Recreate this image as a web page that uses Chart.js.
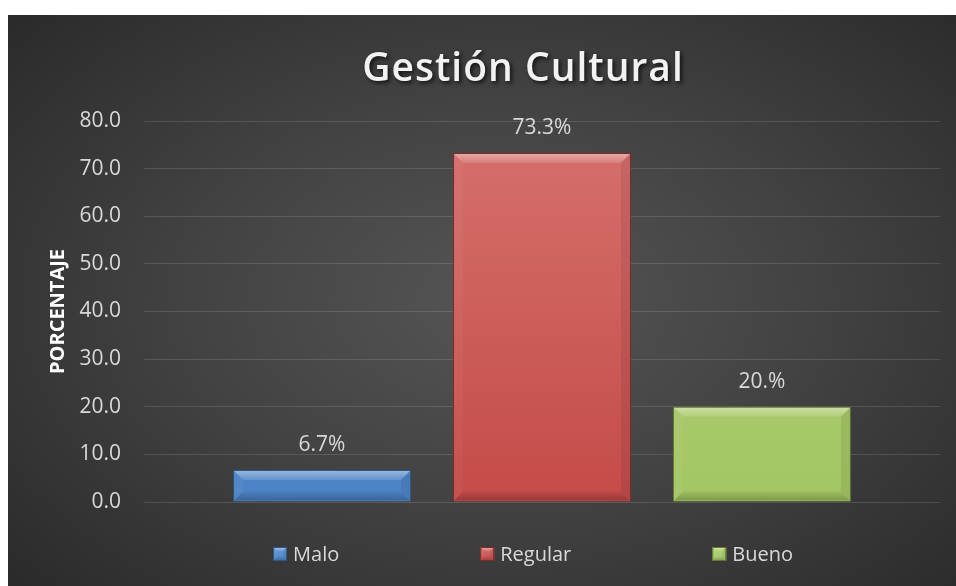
<!DOCTYPE html>
<html><head><meta charset="utf-8">
<script src="https://cdn.jsdelivr.net/npm/chart.js@4"></script>
<style>
html,body{margin:0;padding:0;background:#fff;}
#wrap{position:absolute;left:8px;top:15px;width:948px;height:571px;
background:radial-gradient(ellipse 75% 80% at 52% 50%, #555555 0%, #424242 45%, #272727 100%);}
canvas{display:block}
</style></head><body>
<div id="wrap"><canvas id="c" width="948" height="571"></canvas></div>
<script>
// ---- data ----
const chartTitle = 'Gestión Cultural';
const yAxisTitle = 'PORCENTAJE';
const categories = [''];
const seriesNames = ['Malo', 'Regular', 'Bueno'];
const seriesValues = [6.7, 73.3, 20.0];
const valueLabels = ['6.7%', '73.3%', '20.%'];
const yMin = 0, yMax = 80, yStep = 10;

// ---- styles ----
const seriesTop = ['#6a9bd8', '#d6716e', '#b5d47a'];
const seriesBottom = ['#4c83c5', '#c44b48', '#a3c563'];
const seriesBorder = ['#2f5686', '#7f2a28', '#62792f'];
const FONT = '"Open Sans", "Noto Sans", sans-serif';
const TXT = '#d9d9d9';

function gradFor(i) {
  return (ctx) => {
    const ca = ctx.chart.chartArea;
    if (!ca) return seriesBottom[i];
    const g = ctx.chart.ctx.createLinearGradient(0, ca.top, 0, ca.bottom);
    g.addColorStop(0, seriesTop[i]);
    g.addColorStop(1, seriesBottom[i]);
    return g;
  };
}

const datasets = seriesNames.map((name, i) => ({
  label: name,
  data: [seriesValues[i]],
  backgroundColor: gradFor(i),
  borderColor: seriesBorder[i],
  borderWidth: 1,
  categoryPercentage: 0.829,
  barPercentage: 0.809
}));

function poly(ctx, pts, fill) {
  ctx.beginPath();
  ctx.moveTo(pts[0][0], pts[0][1]);
  for (let k = 1; k < pts.length; k++) ctx.lineTo(pts[k][0], pts[k][1]);
  ctx.closePath();
  ctx.fillStyle = fill;
  ctx.fill();
}

function bevel(ctx, x0, y0, x1, y1, b) {
  const gt = ctx.createLinearGradient(0, y0, 0, y0 + b);
  gt.addColorStop(0, 'rgba(255,255,255,0.40)');
  gt.addColorStop(1, 'rgba(255,255,255,0.10)');
  poly(ctx, [[x0, y0], [x1, y0], [x1 - b, y0 + b], [x0 + b, y0 + b]], gt);
  const gb = ctx.createLinearGradient(0, y1 - b, 0, y1);
  gb.addColorStop(0, 'rgba(0,0,0,0.04)');
  gb.addColorStop(1, 'rgba(0,0,0,0.22)');
  poly(ctx, [[x0, y1], [x1, y1], [x1 - b, y1 - b], [x0 + b, y1 - b]], gb);
  poly(ctx, [[x0, y0], [x0 + b, y0 + b], [x0 + b, y1 - b], [x0, y1]], 'rgba(255,255,255,0.04)');
  poly(ctx, [[x1, y0], [x1 - b, y0 + b], [x1 - b, y1 - b], [x1, y1]], 'rgba(0,0,0,0.07)');
}

const bevelPlugin = {
  id: 'bevel',
  afterDatasetsDraw(chart) {
    const ctx = chart.ctx;
    ctx.save();
    chart.data.datasets.forEach((ds, i) => {
      const meta = chart.getDatasetMeta(i);
      meta.data.forEach(bar => {
        const p = bar.getProps(['x', 'y', 'base', 'width'], true);
        const x0 = p.x - p.width / 2 + 1, x1 = p.x + p.width / 2 - 1;
        const y0 = Math.min(p.y, p.base) + 1, y1 = Math.max(p.y, p.base) - 1;
        const b = Math.min(9, (y1 - y0) / 2);
        bevel(ctx, x0, y0, x1, y1, b);
      });
    });
    ctx.restore();
  }
};

const labelPlugin = {
  id: 'valueLabels',
  afterDatasetsDraw(chart) {
    const ctx = chart.ctx;
    ctx.save();
    ctx.font = '21px ' + FONT;
    ctx.fillStyle = TXT;
    ctx.textAlign = 'center';
    ctx.textBaseline = 'middle';
    chart.data.datasets.forEach((ds, i) => {
      const meta = chart.getDatasetMeta(i);
      meta.data.forEach(bar => {
        ctx.fillText(valueLabels[i], bar.x, bar.y - 25);
      });
    });
    ctx.restore();
  }
};

const titlePlugin = {
  id: 'bigTitle',
  afterDraw(chart) {
    const ctx = chart.ctx;
    const ca = chart.chartArea;
    ctx.save();
    ctx.font = '600 39px ' + FONT;
    if ('letterSpacing' in ctx) ctx.letterSpacing = '1px';
    ctx.textAlign = 'center';
    ctx.textBaseline = 'middle';
    ctx.shadowColor = 'rgba(0,0,0,0.75)';
    ctx.shadowBlur = 4;
    ctx.shadowOffsetX = 2;
    ctx.shadowOffsetY = 2;
    ctx.fillStyle = '#f2f2f2';
    ctx.fillText(chartTitle, (ca.left + ca.right) / 2 - 19, ca.top - 51);
    ctx.restore();
  }
};

const legendPlugin = {
  id: 'bottomLegend',
  afterDraw(chart) {
    const ctx = chart.ctx;
    const ca = chart.chartArea;
    ctx.save();
    ctx.font = '20px ' + FONT;
    const box = 14, gapText = 6, gapItem = 141;
    const items = chart.data.datasets.map((d, i) => ({ text: d.label, i, w: ctx.measureText(d.label).width }));
    let total = 0;
    items.forEach((it, k) => { total += box + gapText + it.w + (k ? gapItem : 0); });
    let x = (ca.left + ca.right) / 2 - 9 - total / 2;
    const cy = ca.bottom + 52;
    ctx.textBaseline = 'middle';
    ctx.textAlign = 'left';
    items.forEach(it => {
      const g = ctx.createLinearGradient(0, cy - box / 2, 0, cy + box / 2);
      g.addColorStop(0, seriesTop[it.i]);
      g.addColorStop(1, seriesBottom[it.i]);
      ctx.fillStyle = g;
      ctx.fillRect(x, cy - box / 2, box, box);
      bevel(ctx, x, cy - box / 2, x + box, cy + box / 2, 4);
      ctx.strokeStyle = seriesBorder[it.i];
      ctx.lineWidth = 1;
      ctx.strokeRect(x + 0.5, cy - box / 2 + 0.5, box - 1, box - 1);
      ctx.fillStyle = TXT;
      ctx.fillText(it.text, x + box + gapText, cy + 1);
      x += box + gapText + it.w + gapItem;
    });
    ctx.restore();
  }
};

new Chart(document.getElementById('c'), {
  type: 'bar',
  data: { labels: categories, datasets },
  options: {
    responsive: false,
    devicePixelRatio: 1,
    animation: false,
    layout: { padding: { top: 106, bottom: 84, left: 0, right: 16 } },
    plugins: { legend: { display: false }, title: { display: false }, tooltip: { enabled: false } },
    scales: {
      x: { display: false },
      y: {
        min: yMin, max: yMax,
        afterFit(scale) { scale.width = 136; },
        ticks: {
          stepSize: yStep,
          color: TXT,
          padding: 23,
          font: { family: FONT, size: 21 },
          callback: v => Number(v).toFixed(1)
        },
        grid: { color: 'rgba(255,255,255,0.13)', lineWidth: 1, drawTicks: false },
        border: { display: false },
        title: {
          display: true, text: yAxisTitle, color: '#ffffff',
          font: { family: FONT, size: 20, weight: 'bold' },
          padding: { top: 38, bottom: 0 }
        }
      }
    }
  },
  plugins: [bevelPlugin, labelPlugin, titlePlugin, legendPlugin]
});
</script>
</body></html>
